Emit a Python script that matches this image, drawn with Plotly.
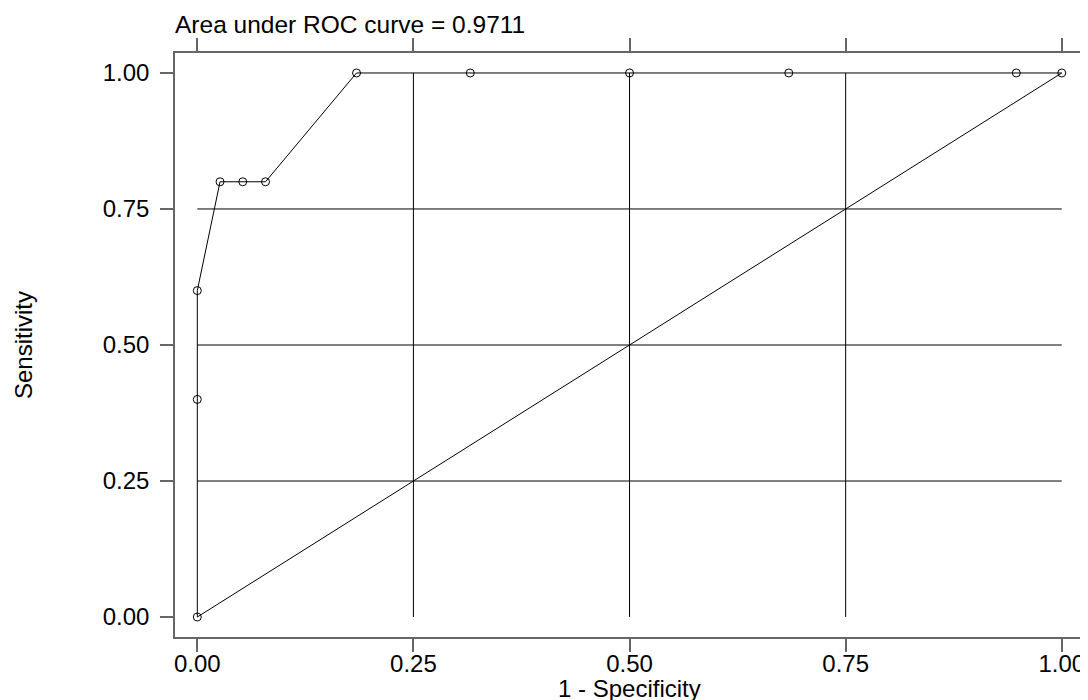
import plotly.graph_objects as go

# Data
fpr = [0.0, 0.0, 0.0, 0.0263, 0.0526, 0.0789, 0.1842, 0.3158, 0.5, 0.6842, 0.9474, 1.0]
sens = [0.0, 0.4, 0.6, 0.8, 0.8, 0.8, 1.0, 1.0, 1.0, 1.0, 1.0, 1.0]
ref_line = [0.0, 1.0]
tick_vals = [0.0, 0.25, 0.5, 0.75, 1.0]
tick_text = ["0.00", "0.25", "0.50", "0.75", "1.00"]
grid_vals = [0.25, 0.5, 0.75]
title_text = "Area under ROC curve = 0.9711"
x_title = "1 - Specificity"
y_title = "Sensitivity"

FONT = "Liberation Sans, Arial, sans-serif"
BOX = "#666666"

fig = go.Figure()

# gridlines spanning the data range [0,1]
lo, hi = min(tick_vals), max(tick_vals)
for g in grid_vals:
    fig.add_shape(type="line", xref="x", yref="y", x0=lo, x1=hi, y0=g, y1=g,
                  line=dict(color="black", width=1), layer="below")
    fig.add_shape(type="line", xref="x", yref="y", x0=g, x1=g, y0=lo, y1=hi,
                  line=dict(color="black", width=1), layer="below")

fig.add_trace(go.Scatter(x=fpr, y=sens, mode="lines+markers",
                         line=dict(color="black", width=1),
                         marker=dict(symbol="circle-open", size=8, color="black",
                                     line=dict(width=1, color="black")),
                         showlegend=False, hoverinfo="x+y"))
fig.add_trace(go.Scatter(x=ref_line, y=ref_line, mode="lines",
                         line=dict(color="black", width=1),
                         showlegend=False, hoverinfo="skip"))

axis_common = dict(showline=True, mirror="ticks", linecolor=BOX, linewidth=1.5,
                   ticks="outside", ticklen=13, tickcolor=BOX, tickwidth=1.5,
                   showgrid=False, zeroline=False, tickvals=tick_vals, ticktext=tick_text,
                   automargin=False,
                   tickfont=dict(family=FONT, size=24, color="black"))

fig.update_xaxes(range=[-0.0258, 1.0257], ticklabelstandoff=-9, **axis_common)
fig.update_yaxes(range=[-0.0367, 1.0367], ticklabelstandoff=6, **axis_common)

# page body has an 8px margin: figure is sized/offset to land where intended
fig.update_layout(
    width=1080, height=692, autosize=False,
    margin=dict(l=167, r=4, t=45, b=63, pad=0),
    paper_bgcolor="white", plot_bgcolor="white",
    font=dict(family=FONT, size=24, color="black"),
    annotations=[
        dict(text=title_text, xref="paper", yref="paper", x=0, y=1,
             xanchor="left", yanchor="middle", yshift=29, xshift=-2, showarrow=False,
             font=dict(family=FONT, size=24.5, color="black")),
        dict(text=x_title, xref="paper", yref="paper", x=0.5, y=0,
             xanchor="center", yanchor="middle", yshift=-51, showarrow=False,
             font=dict(family=FONT, size=24, color="black")),
        dict(text=y_title, xref="paper", yref="paper", x=0, y=0.5,
             xanchor="center", yanchor="middle", xshift=-152, textangle=-90,
             showarrow=False, font=dict(family=FONT, size=24, color="black")),
    ],
)

fig.write_html("out.html")
